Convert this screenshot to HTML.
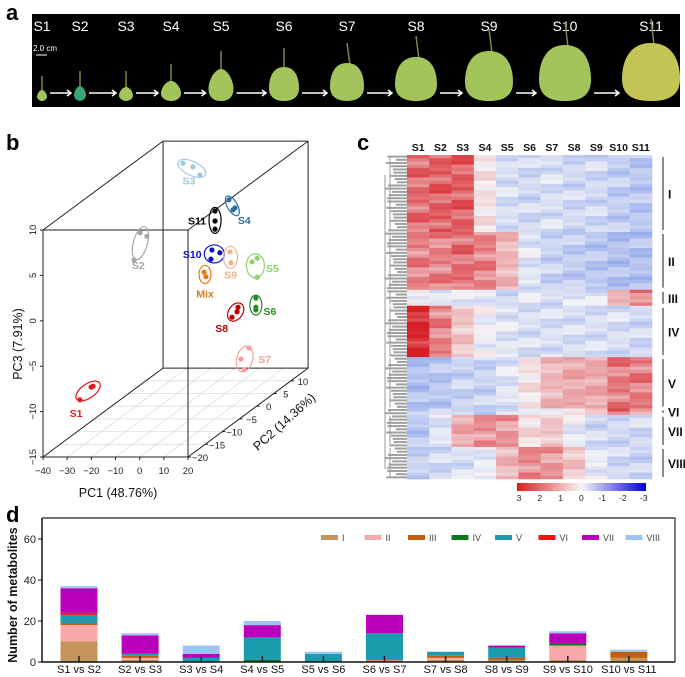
<!DOCTYPE html>
<html><head><meta charset="utf-8"><style>
html,body{margin:0;padding:0;background:#fff;}
svg{display:block;font-family:"Liberation Sans",sans-serif;}
</style></head><body>
<svg id="fig" width="685" height="677" viewBox="0 0 685 677" xmlns="http://www.w3.org/2000/svg">
<text x="6" y="20" font-size="22" font-weight="bold">a</text>
<text x="6" y="150" font-size="22" font-weight="bold">b</text>
<text x="357" y="150" font-size="22" font-weight="bold">c</text>
<text x="6" y="522" font-size="22" font-weight="bold">d</text>
<g id="pa">
<rect x="32" y="14" width="648" height="93" fill="#000"/>
<line x1="36" y1="55" x2="47" y2="55" stroke="#fff" stroke-width="1"/>
<text x="33" y="51" font-size="8" fill="#fff">2.0 cm</text>
</g>
<g id="pb"></g>
<g id="pc"></g>
<g id="pd"></g>
</svg>
<script>
// ---- Panel a data ----
const stages=["S1","S2","S3","S4","S5","S6","S7","S8","S9","S10","S11"];
const fruitWidth=[10,12,14,20,25,30,34,42,48,52,58];
const fruitHeight=[11,15,14,20,32,34,38,44,50,56,58];
// ---- Panel b data ----
const pcaGroups=["S1","S2","S3","S4","S11","S10","S9","Mix","S5","S6","S8","S7"];
const pc1=[[-27.2,-26.4,-31.8],[-35.3,-32.5,-37.8],[-27.5,-23.4,-20.5],[-2.8,-1.1,-0.3],[-4.3,-4.3,-4.3],[1.5,4.8,1.1],[9.0,9.4],[2.5,3.3],[18.1,20.2,20.2],[12.6,12.6,12.6],[12.3,11.9,9.8],[9.8,6.4,7.7]];
const pc2=[[-15,-15,-15],[5,5,5],[12,12,12],[8,8,8],[5,5,5],[0,0,0],[0,0],[-3,-3],[0,0,0],[5,5,5],[0,0,0],[5,5,5]];
const pc3=[[-8.7,-8.6,-10.1],[2.7,2.3,-0.3],[8.4,8.0,7.1],[5.5,4.4,4.6],[5.1,4.0,3.1],[2.2,1.9,1.2],[2.0,0.8],[0.6,0.1],[0.9,1.3,-0.8],[-4.5,-5.5,-5.8],[-4.1,-4.6,-5.2],[-10.0,-11.2,-12.4]];
const pc1Ticks=[-40,-30,-20,-10,0,10,20];
const pc2Ticks=[-20,-15,-10,-5,0,5,10];
const pc3Ticks=[-15,-10,-5,0,5,10];
// ---- Panel c data ----
const hmCols=["S1","S2","S3","S4","S5","S6","S7","S8","S9","S10","S11"];
const clusterNames=["I","II","III","IV","V","VI","VII","VIII"];
const clusterRows=[24,18,5,16,16,2,10,10];
const clusterMeans=[
[1.8,2.0,2.0,0.2,-0.4,-0.5,-0.4,-0.5,-0.5,-0.7,-0.8],
[1.5,1.5,1.8,1.5,0.8,-0.3,-0.6,-0.7,-0.8,-0.9,-0.9],
[0,-0.3,-0.3,-0.2,-0.5,-0.3,-0.4,-0.2,-0.3,0.8,1.5],
[2.8,1.5,0.6,-0.1,-0.3,-0.4,-0.4,-0.4,-0.4,-0.4,-0.5],
[-0.9,-0.8,-0.6,-0.6,-0.3,0.2,0.8,1.0,1.0,1.6,1.6],
[-0.6,-0.6,-0.6,-0.6,-0.4,-0.2,0,0.5,0.5,1.8,1.4],
[-0.8,-0.3,1.0,1.3,1.2,0.3,0.6,-0.2,-0.5,-0.5,-0.5],
[-0.6,-0.5,-0.4,-0.2,0.8,1.4,1.2,0.6,-0.2,-0.5,-0.6]];
const rowOffsets=[0.3,-0.2,0.5,-0.4,0.1,-0.1,0.4,-0.3,0.2,0,-0.5,0.35,-0.15,0.25];
const cbTicks=["3","2","1","0","-1","-2","-3"];
// ---- Panel d data ----
const comparisons=["S1 vs S2","S2 vs S3","S3 vs S4","S4 vs S5","S5 vs S6","S6 vs S7","S7 vs S8","S8 vs S9","S9 vs S10","S10 vs S11"];
const seriesNames=["I","II","III","IV","V","VI","VII","VIII"];
const sI=[10,1,0,0,0,1,1,1,1,2];
const sII=[8,1,0,0,0,0,1,0,7,0];
const sIII=[1,1,0,0,0,0,1,1,0,3];
const sIV=[0,0,0,1,0,0,0,0,1,0];
const sV=[4,1,2,11,4,13,2,5,0,0];
const sVI=[1,0,0,0,0,0,0,0,0,0];
const sVII=[12,9,2,6,0,9,0,1,5,0];
const sVIII=[1,1,4,2,1,0,0,0,1,1];
const yTicks=[0,20,40,60];

const NS="http://www.w3.org/2000/svg";
function mk(parent,tag,attrs,txt){const e=document.createElementNS(NS,tag);for(const k in attrs)e.setAttribute(k,attrs[k]);if(txt!==undefined)e.textContent=txt;parent.appendChild(e);return e;}

// ===== Panel a =====
(function(){
const g=document.getElementById('pa');
const cxs=[42,80,126,171,221,284,347,416,489,565,651];
stages.forEach((s,i)=>{
 const t=mk(g,'text',{x:cxs[i],y:31,'font-size':14,fill:'#fff','text-anchor':'middle'},s);
 
 
 const w=fruitWidth[i],h=fruitHeight[i];
 const cx=cxs[i],bot=101,top=bot-h;
 const st=mk(g,'line',{x1:cx,y1:top-14-i,x2:cx+(i>5?3:0),y2:top+2,stroke:'#7a8a40','stroke-width':1.5});
 
 
 const col=i==1?'#3aa572':(i==10?'#c4c455':'#a2c45a');
 const nw=w*(i<5?0.25:0.4);
 const d=`M${cx},${top} C${cx+nw},${top} ${cx+w/2},${top+h*0.35} ${cx+w/2},${top+h*0.62} C${cx+w/2},${bot-2} ${cx+w*0.2},${bot} ${cx},${bot} C${cx-w*0.2},${bot} ${cx-w/2},${bot-2} ${cx-w/2},${top+h*0.62} C${cx-w/2},${top+h*0.35} ${cx-nw},${top} ${cx},${top} Z`;
 const e=mk(g,'path',{d:d,fill:col});
 
 
 if(i<10){
  const a1=cxs[i]+w/2+3,a2=cxs[i+1]-fruitWidth[i+1]/2-3;
  const ar=mk(g,'path',{d:`M${a1},93 L${a2},93 M${a2-4},90 L${a2},93 L${a2-4},96`,stroke:'#fff','stroke-width':1.5,fill:'none'});
  
  
 }
});
})();

// ===== Panel b =====
(function(){
const g=document.getElementById('pb');
function P(x,y,z){return [43+(x+40)*2.417+(y+20)*3.43, 457-(z+15)*9.08-(y+20)*2.54];}
for(const v of pc1Ticks){const a=P(v,-20,-15),b=P(v,15,-15);const l=mk(g,'line',{x1:a[0],y1:a[1],x2:b[0],y2:b[1],stroke:'#ddd','stroke-width':0.8});}
for(const v of [-20,-15,-10,-5,0,5,10,15]){const a=P(-40,v,-15),b=P(20,v,-15);const l=mk(g,'line',{x1:a[0],y1:a[1],x2:b[0],y2:b[1],stroke:'#ddd','stroke-width':0.8});}
const C=[[-40,-20,-15],[20,-20,-15],[20,-20,10],[-40,-20,10],[-40,15,-15],[20,15,-15],[20,15,10],[-40,15,10]];
const edges=[[0,1],[1,2],[2,3],[3,0],[4,5],[5,6],[6,7],[7,4],[0,4],[1,5],[2,6],[3,7]];
edges.forEach(e=>{const a=P(...C[e[0]]),b=P(...C[e[1]]);const l=mk(g,'line',{x1:a[0],y1:a[1],x2:b[0],y2:b[1],stroke:'#222','stroke-width':1});});
pc1Ticks.forEach(v=>{const a=P(v,-20,-15);const l=mk(g,'line',{x1:a[0],y1:a[1],x2:a[0],y2:a[1]+3,stroke:'#222'});
 const t=mk(g,'text',{x:a[0],y:a[1]+17,'font-size':9.5,'text-anchor':'middle',fill:'#222'},v<0?'\u2212'+(-v):v);});
pc3Ticks.forEach(v=>{const a=P(-40,-20,v);const l=mk(g,'line',{x1:a[0]-3,y1:a[1],x2:a[0],y2:a[1],stroke:'#222'});
 const t=mk(g,'text',{x:0,y:0,'font-size':9.5,'text-anchor':'middle',fill:'#222',transform:`translate(${a[0]-7},${a[1]}) rotate(-90)`},v<0?'\u2212'+(-v):v);});
pc2Ticks.forEach(v=>{const a=P(20,v,-15);const l=mk(g,'line',{x1:a[0],y1:a[1],x2:a[0]+3,y2:a[1],stroke:'#222'});
 const t=mk(g,'text',{x:a[0]+12,y:a[1]+4,'font-size':9.5,'text-anchor':'middle',fill:'#222'},v<0?'\u2212'+(-v):v);});
let t=mk(g,'text',{x:118,y:497,'font-size':12.5,'text-anchor':'middle',fill:'#111'},'PC1 (48.76%)');
t=mk(g,'text',{x:0,y:0,'font-size':12.5,'text-anchor':'middle',fill:'#111',transform:'translate(22,344) rotate(-90)'},'PC3 (7.91%)');
t=mk(g,'text',{x:0,y:0,'font-size':12.5,'text-anchor':'middle',fill:'#111',transform:'translate(287,425) rotate(-42)'},'PC2 (14.36%)');
const colors={S1:'#e31a1c',S2:'#a6a6a6',S3:'#9ecae1',S4:'#2b6ea6',S11:'#000',S10:'#1010d0',S9:'#f4b183',Mix:'#e07b10',S5:'#8fd06a',S6:'#2a8a2a',S8:'#c00000',S7:'#f4a0a0'};
const ell={S1:[14,7,-35,-12,22],S2:[7,17,15,-2,22],S3:[15,7,25,-3,12],S4:[5,11,-30,12,14],S11:[6,13,0,-18,0],S10:[10,9,0,-22,0],S9:[7,11,0,0,17],Mix:[6,9,0,0,19],S5:[9,12,0,17,2],S6:[6,10,0,14,6],S8:[7,10,35,-14,16],S7:[8,13,15,20,0]};
pcaGroups.forEach((s,gi)=>{
 const pts=pc1[gi].map((x,k)=>P(x,pc2[gi][k],pc3[gi][k]));
 const cx=pts.reduce((a,p)=>a+p[0],0)/pts.length,cy=pts.reduce((a,p)=>a+p[1],0)/pts.length;
 const e=ell[s];
 const el=mk(g,'ellipse',{cx:cx,cy:cy,rx:e[0],ry:e[1],fill:'none',stroke:colors[s],'stroke-width':1.2,transform:`rotate(${e[2]},${cx},${cy})`});
 
 pts.forEach(p=>{const c=mk(g,'circle',{cx:p[0],cy:p[1],r:2.6,fill:colors[s]});});
 const lt=mk(g,'text',{x:cx+e[3],y:cy+e[4]+4,'font-size':10.5,'font-weight':'bold','text-anchor':'middle',fill:colors[s]},s);
 
});
})();

// ===== Panel c =====
(function(){
const g=document.getElementById('pc');
const X0=407,X1=652,Y0=155,Y1=479;
const nRows=clusterRows.reduce((a,b)=>a+b,0);
const cw=(X1-X0)/hmCols.length,rh=(Y1-Y0)/nRows;
function colr(v){v=Math.max(-3,Math.min(3,v));
 if(v>=0){const t=v/3;return `rgb(${Math.round(246-(246-214)*t)},${Math.round(242-(242-30)*t)},${Math.round(244-(244-36)*t)})`;}
 const t=-v/3;return `rgb(${Math.round(244-(244-40)*t*1.1)},${Math.round(244-(244-80)*t*1.05)},${Math.round(246-(246-225)*t)})`;}
hmCols.forEach((c,j)=>{const t=mk(g,'text',{x:X0+cw*(j+0.5),y:151,'font-size':10.5,'font-weight':'bold','text-anchor':'middle',fill:'#111'},c);});
let r=0;
clusterRows.forEach((n,ci)=>{
 const yStart=Y0+r*rh;
 for(let k=0;k<n;k++,r++){
  const y=Y0+r*rh;
  hmCols.forEach((c,j)=>{
   const v=clusterMeans[ci][j]+rowOffsets[(r*5+j*3)%rowOffsets.length]*(Math.abs(clusterMeans[ci][j])>1?1.2:0.7);
   const cell=mk(g,'rect',{x:X0+j*cw,y:y,width:cw+0.3,height:rh+0.3,fill:colr(v)});
   
   
  });
  const len=10+(rowOffsets[(r*3)%rowOffsets.length]+0.5)*12;
  const dl=mk(g,'line',{x1:X0-len,y1:y+rh/2,x2:X0,y2:y+rh/2,stroke:'#a0a0a0','stroke-width':2});
  
  
 }
 const yEnd=Y0+r*rh;
 const dv=mk(g,'line',{x1:X0-17,y1:yStart+1,x2:X0-17,y2:yEnd-1,stroke:'#9a9a9a','stroke-width':1});
 
 
 const br=mk(g,'line',{x1:663,y1:yStart+2,x2:663,y2:yEnd-2,stroke:'#666','stroke-width':1.5});
 
 
 const lt=mk(g,'text',{x:668,y:(yStart+yEnd)/2+5,'font-size':12,'font-weight':'bold',fill:'#111'},clusterNames[ci]);
 
 
});
const dr=mk(g,'line',{x1:X0-22,y1:Y0+20,x2:X0-22,y2:Y1-10,stroke:'#9a9a9a','stroke-width':1});

const defs=mk(g,'defs',{});
const lg=mk(defs,'linearGradient',{id:'cbg',x1:0,x2:1,y1:0,y2:0});
mk(lg,'stop',{offset:'0','stop-color':'#d81e1e'});
mk(lg,'stop',{offset:'0.5','stop-color':'#f8f4f6'});
mk(lg,'stop',{offset:'1','stop-color':'#0000e0'});
const cb=mk(g,'rect',{x:517,y:483,width:129,height:8,fill:'url(#cbg)'});

cbTicks.forEach((s,i)=>{const t=mk(g,'text',{x:519+i*20.8,y:501,'font-size':8.5,'text-anchor':'middle',fill:'#222'},s);});
})();

// ===== Panel d =====
(function(){
const g=document.getElementById('pd');
const L=42,R=675,T=518,B=662;
const y=v=>B-v*(B-539)/60;
const xc=i=>79+i*61.1;
const bw=37;
const series=[sI,sII,sIII,sIV,sV,sVI,sVII,sVIII];
const cols=['#c4955a','#f9a9a9','#c0600f','#0b7a1f','#1b9bab','#ee1212','#bb00bb','#9cc4f4'];
const fr=mk(g,'path',{d:`M${L},${T} L${R},${T} L${R},${B}`,fill:'none',stroke:'#222','stroke-width':1.2});

comparisons.forEach((c,i)=>{
 let acc=0;
 series.forEach((s,k)=>{
  if(s[i]<=0)return;
  const rc=mk(g,'rect',{x:xc(i)-bw/2,y:y(acc+s[i]),width:bw,height:y(acc)-y(acc+s[i]),fill:cols[k]});
  
  
  acc+=s[i];
 });
 const tk=mk(g,'line',{x1:xc(i),y1:B,x2:xc(i),y2:y(3),stroke:'#222','stroke-width':1.5});
 
 const t=mk(g,'text',{x:xc(i),y:673,'font-size':11,'text-anchor':'middle',fill:'#111'},c);
 
});
const ax=mk(g,'path',{d:`M${L},${T} L${L},${B} L${R},${B}`,fill:'none',stroke:'#111','stroke-width':1.5});

yTicks.forEach(v=>{const l=mk(g,'line',{x1:L-4,y1:y(v),x2:L,y2:y(v),stroke:'#111'});
 const t=mk(g,'text',{x:L-6,y:y(v)+4,'font-size':11,'text-anchor':'end',fill:'#222'},v);});
const yt=mk(g,'text',{x:0,y:0,'font-size':12.5,'font-weight':'bold','text-anchor':'middle',fill:'#111',transform:'translate(17,595) rotate(-90)'},'Number of metabolites');

seriesNames.forEach((s,k)=>{
 const sx=321+k*43.5;
 const sw=mk(g,'rect',{x:sx,y:535,width:17,height:5,fill:cols[k]});
 
 const t=mk(g,'text',{x:sx+21,y:541,'font-size':9,fill:'#444'},s);
 
});
})();
</script>
</body></html>
